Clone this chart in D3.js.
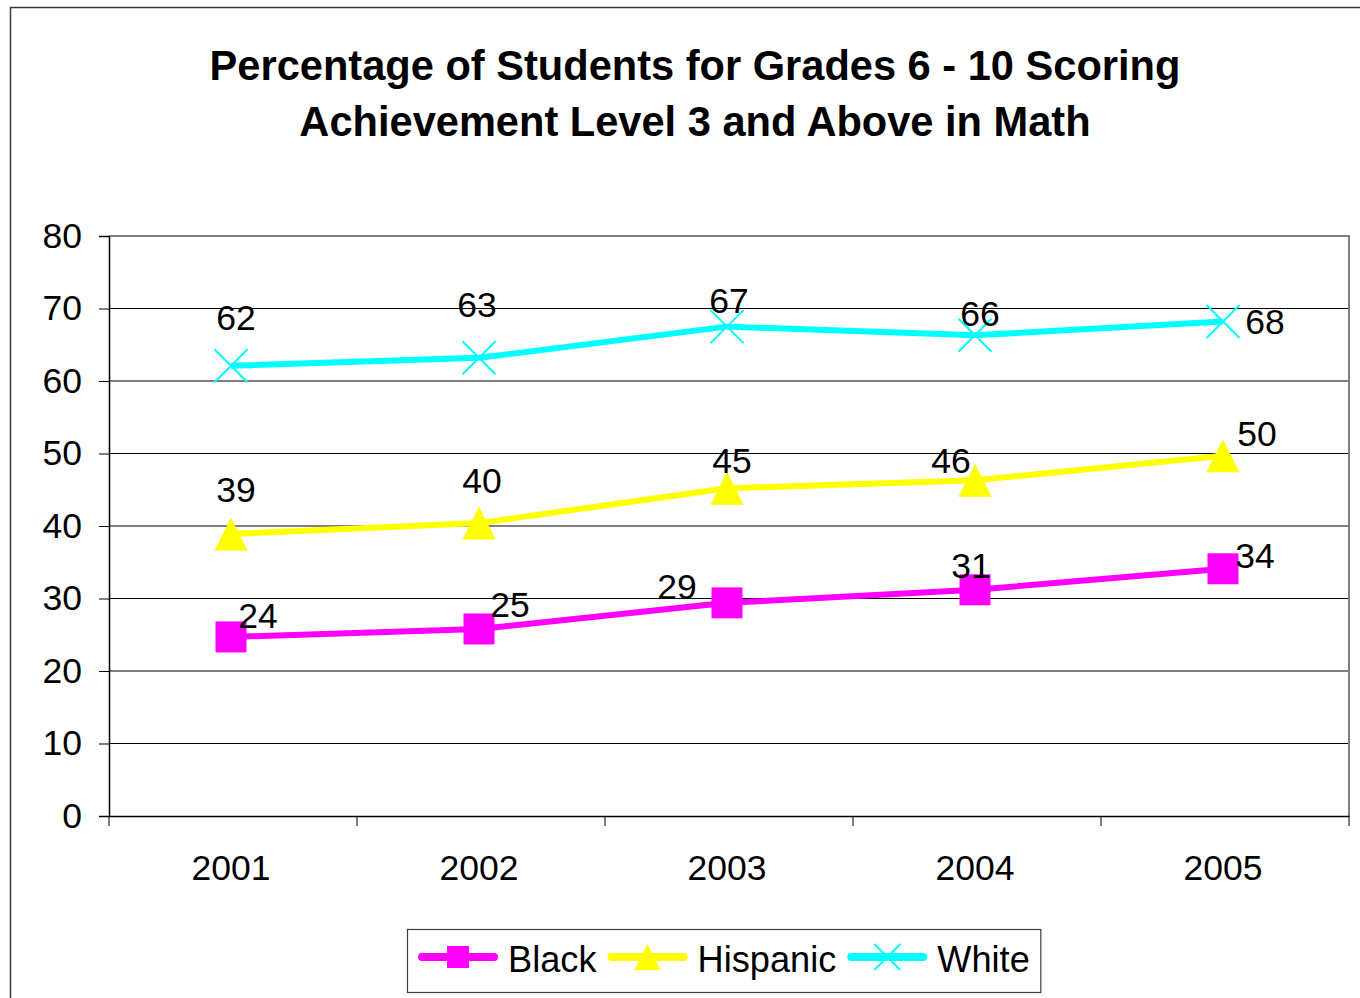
<!DOCTYPE html>
<html>
<head>
<meta charset="utf-8">
<script src="https://cdn.jsdelivr.net/npm/d3@7/dist/d3.min.js"></script>
<style>
  html, body { margin: 0; padding: 0; background: #fff; }
  svg { display: block; font-family: 'Liberation Sans', Arial, sans-serif; }
</style>
</head>
<body>
<div class="chart"></div>
<script>
'use strict';

const titleLines = ['Percentage of Students for Grades 6 - 10 Scoring', 'Achievement Level 3 and Above in Math'];
const years = ['2001', '2002', '2003', '2004', '2005'];
const yTicks = [0, 10, 20, 30, 40, 50, 60, 70, 80];

const seriesNames = ['Black', 'Hispanic', 'White'];
const blackValues = [24.7, 25.8, 29.4, 31.2, 34.1];
const hispanicValues = [38.9, 40.4, 45.2, 46.3, 49.7];
const whiteValues = [62.1, 63.2, 67.5, 66.3, 68.2];
const blackLabels = ['24', '25', '29', '31', '34'];
const hispanicLabels = ['39', '40', '45', '46', '50'];
const whiteLabels = ['62', '63', '67', '66', '68'];

// label nudges (px) the way they sit in the original
const blackNudge = [[27, -22], [31, -25], [-50, -17], [-4, -25], [32, -14]];
const hispanicNudge = [[5, -45], [3, -43], [5, -28], [-24, -20], [34, -22]];
const whiteNudge = [[5, -49], [-2, -54], [2, -26], [5, -22], [42, 0]];

const colors = ['#ff00ff', '#ffff00', '#00ffff'];
const markers = ['square', 'triangle', 'cross'];

const series = seriesNames.map((name, i) => ({
  name,
  color: colors[i],
  marker: markers[i],
  values: [blackValues, hispanicValues, whiteValues][i],
  labels: [blackLabels, hispanicLabels, whiteLabels][i],
  nudge: [blackNudge, hispanicNudge, whiteNudge][i]
}));

const FULL_WIDTH = 1360;
const FULL_HEIGHT = 998;
const margin = {
  top: 236,
  right: 11,
  bottom: 182,
  left: 109
};
const WIDTH = FULL_WIDTH - margin.left - margin.right;
const HEIGHT = FULL_HEIGHT - margin.top - margin.bottom;

const root = d3.select('.chart')
  .append('svg')
    .attr('width', FULL_WIDTH)
    .attr('height', FULL_HEIGHT);

// outer chart border (runs off the right and bottom edges)
root.append('rect')
  .attr('x', 10.5)
  .attr('y', 7.5)
  .attr('width', 1500)
  .attr('height', 1200)
  .attr('fill', '#fff')
  .attr('stroke', '#3a3a3a')
  .attr('stroke-width', 1.5);

root.selectAll('.title')
  .data(titleLines)
  .enter()
  .append('text')
    .attr('class', 'title')
    .attr('x', 695)
    .attr('y', (d, i) => 80 + i * 55.5)
    .attr('text-anchor', 'middle')
    .attr('font-size', 41.6)
    .attr('font-weight', 'bold')
    .attr('fill', '#000')
    .text((d) => d);

const svg = root.append('g')
  .attr('transform', 'translate(' + margin.left + ',' + margin.top + ')');

const x = d3.scaleBand()
  .domain(years)
  .range([0, WIDTH]);

const y = d3.scaleLinear()
  .domain([0, 80])
  .range([HEIGHT, 0]);

const cx = (i) => x(years[i]) + x.bandwidth() / 2 - 2;

// gridlines
svg.selectAll('.grid')
  .data(yTicks.filter((d) => d > 0 && d < 80))
  .enter()
  .append('line')
    .attr('class', 'grid')
    .attr('x1', 0)
    .attr('x2', WIDTH)
    .attr('y1', (d) => y(d))
    .attr('y2', (d) => y(d))
    .attr('stroke', '#000')
    .attr('stroke-width', 1);

// plot frame top + right
svg.append('path')
  .attr('d', 'M0,' + y(80) + 'H' + WIDTH + 'V' + y(0))
  .attr('fill', 'none')
  .attr('stroke', '#808080')
  .attr('stroke-width', 2);

const yAxis = svg.append('g')
  .call(d3.axisLeft(y)
    .tickValues(yTicks)
    .tickSize(10)
    .tickPadding(17));

const xAxis = svg.append('g')
  .attr('transform', 'translate(0,' + HEIGHT + ')')
  .call(d3.axisBottom(x)
    .tickSize(0)
    .tickPadding(39));

xAxis.selectAll('.tick text').attr('dx', -2);

// category boundary ticks
xAxis.selectAll('.bound')
  .data(years.map((d) => x(d)).concat([x.range()[1]]))
  .enter()
  .append('line')
    .attr('class', 'bound')
    .attr('x1', (d) => d)
    .attr('x2', (d) => d)
    .attr('y1', 0)
    .attr('y2', 10)
    .attr('stroke', '#000');

[yAxis, xAxis].forEach((ax) => {
  ax.select('.domain').attr('stroke', '#000').attr('stroke-width', 1.5);
  ax.selectAll('.tick line').attr('stroke', '#000');
  ax.selectAll('text')
    .attr('font-size', 35.5)
    .attr('font-family', "'Liberation Sans', Arial, sans-serif")
    .attr('fill', '#000');
});

function markerPath(type, s) {
  const h = s / 2;
  if (type === 'square') return 'M' + -h + ',' + -h + 'H' + h + 'V' + h + 'H' + -h + 'Z';
  if (type === 'triangle') return 'M0,' + -h + 'L' + h + ',' + h + 'H' + -h + 'Z';
  return 'M' + -h + ',' + -h + 'L' + h + ',' + h + 'M' + h + ',' + -h + 'L' + -h + ',' + h;
}

function drawMarker(sel, type, color, s) {
  sel.append('path')
    .attr('d', markerPath(type, s))
    .attr('fill', type === 'cross' ? 'none' : color)
    .attr('stroke', color)
    .attr('stroke-width', type === 'cross' ? 2 : 0);
}

const line = d3.line()
  .x((d, i) => cx(i))
  .y((d) => y(d));

series.forEach((s) => {
  const g = svg.append('g');
  g.append('path')
    .datum(s.values)
    .attr('d', line)
    .attr('fill', 'none')
    .attr('stroke', s.color)
    .attr('stroke-width', 6)
    .attr('stroke-linejoin', 'round');

  g.selectAll('.pt')
    .data(s.values)
    .enter()
    .append('g')
      .attr('class', 'pt')
      .attr('transform', (d, i) => 'translate(' + cx(i) + ',' + y(d) + ')')
      .each(function () {
        drawMarker(d3.select(this), s.marker, s.color, s.marker === 'square' ? 31 : 33);
      });
});

series.forEach((s) => {
  svg.selectAll(null)
    .data(s.values)
    .enter()
    .append('text')
      .attr('x', (d, i) => cx(i) + s.nudge[i][0])
      .attr('y', (d, i) => y(d) + s.nudge[i][1])
      .attr('dy', '0.36em')
      .attr('text-anchor', 'middle')
      .attr('font-size', 35.5)
      .attr('fill', '#000')
      .text((d, i) => s.labels[i]);
});

// legend
const legend = root.append('g');
const legendBox = legend.append('rect')
  .attr('x', 407.5)
  .attr('y', 929.5)
  .attr('height', 63)
  .attr('fill', '#fff')
  .attr('stroke', '#404040')
  .attr('stroke-width', 1.2);

let lx = 418;
const ly = 957;
series.forEach((s) => {
  legend.append('line')
    .attr('x1', lx + 4)
    .attr('x2', lx + 76)
    .attr('y1', ly)
    .attr('y2', ly)
    .attr('stroke', s.color)
    .attr('stroke-width', 8)
    .attr('stroke-linecap', 'round');
  const m = legend.append('g')
    .attr('transform', 'translate(' + (lx + 40) + ',' + ly + ')');
  drawMarker(m, s.marker, s.color, s.marker === 'square' ? 22 : 26);
  const t = legend.append('text')
    .attr('x', lx + 90)
    .attr('y', ly + 15)
    .attr('font-size', 36.2)
    .attr('fill', '#000')
    .text(s.name);
  lx += 90 + t.node().getComputedTextLength() + 11;
});
legendBox.attr('width', lx - 407.5);
</script>
</body>
</html>
